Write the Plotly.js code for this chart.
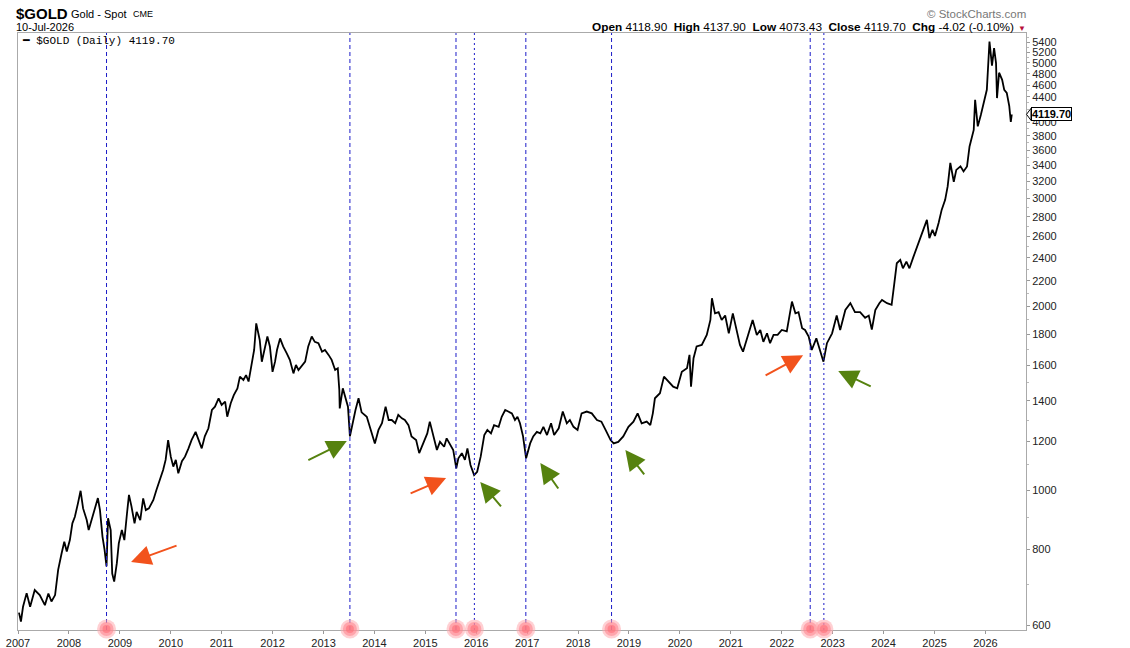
<!DOCTYPE html>
<html>
<head>
<meta charset="utf-8">
<script src="https://cdn.plot.ly/plotly-3.0.1.min.js"></script>
<style>
  html, body { margin: 0; padding: 0; background: #ffffff; }
  #chart { width: 1130px; height: 648px; }
</style>
</head>
<body>
<div id="chart"></div>
<script>
// ---- data (decimal year, gold spot close) ----
const years = [
  2007.02,2007.06,2007.10,2007.17,2007.24,2007.33,2007.43,2007.53,2007.60,2007.66,
  2007.73,2007.79,2007.86,2007.91,2007.96,2008.02,2008.07,2008.12,2008.18,2008.23,
  2008.28,2008.35,2008.39,2008.45,2008.51,2008.57,2008.61,2008.66,2008.70,2008.74,
  2008.77,2008.82,2008.85,2008.89,2008.94,2008.98,2009.04,2009.09,2009.14,2009.18,
  2009.23,2009.29,2009.33,2009.40,2009.46,2009.51,2009.57,2009.66,2009.72,2009.81,
  2009.85,2009.90,2009.95,2010.00,2010.05,2010.10,2010.15,2010.22,2010.28,2010.35,
  2010.41,2010.49,2010.54,2010.61,2010.67,2010.74,2010.81,2010.87,2010.94,2011.00,
  2011.07,2011.11,2011.18,2011.24,2011.31,2011.36,2011.43,2011.48,2011.53,2011.59,
  2011.64,2011.68,2011.71,2011.75,2011.79,2011.83,2011.90,2011.95,2012.00,2012.05,
  2012.09,2012.15,2012.21,2012.28,2012.34,2012.41,2012.46,2012.51,2012.57,2012.64,
  2012.70,2012.77,2012.83,2012.90,2012.97,2013.03,2013.10,2013.16,2013.23,2013.28,
  2013.31,2013.32,2013.38,2013.43,2013.48,2013.52,2013.58,2013.63,2013.69,2013.75,
  2013.85,2013.95,2014.01,2014.08,2014.15,2014.22,2014.28,2014.34,2014.41,2014.47,
  2014.54,2014.60,2014.67,2014.73,2014.82,2014.88,2014.96,2015.04,2015.09,2015.16,
  2015.23,2015.29,2015.37,2015.42,2015.49,2015.55,2015.61,2015.65,2015.72,2015.78,
  2015.83,2015.89,2015.96,2016.02,2016.09,2016.16,2016.22,2016.29,2016.35,2016.44,
  2016.50,2016.57,2016.63,2016.70,2016.76,2016.81,2016.86,2016.92,2016.98,2017.06,
  2017.12,2017.19,2017.26,2017.32,2017.39,2017.47,2017.53,2017.62,2017.70,2017.78,
  2017.84,2017.91,2017.99,2018.07,2018.17,2018.27,2018.37,2018.46,2018.54,2018.64,
  2018.70,2018.79,2018.89,2018.99,2019.09,2019.17,2019.25,2019.35,2019.42,2019.47,
  2019.51,2019.61,2019.69,2019.78,2019.87,2019.95,2020.04,2020.14,2020.19,2020.22,
  2020.27,2020.33,2020.43,2020.53,2020.60,2020.63,2020.69,2020.76,2020.82,2020.89,
  2020.96,2021.04,2021.11,2021.18,2021.24,2021.31,2021.43,2021.51,2021.58,2021.64,
  2021.71,2021.77,2021.84,2021.92,2022.00,2022.10,2022.20,2022.27,2022.33,2022.40,
  2022.46,2022.53,2022.59,2022.68,2022.75,2022.82,2022.89,2022.99,2023.08,2023.15,
  2023.25,2023.35,2023.44,2023.54,2023.64,2023.71,2023.77,2023.84,2023.92,2023.97,
  2024.07,2024.16,2024.21,2024.26,2024.33,2024.38,2024.45,2024.51,2024.59,2024.68,
  2024.78,2024.85,2024.90,2024.96,2025.01,2025.08,2025.14,2025.21,2025.26,2025.31,
  2025.38,2025.43,2025.51,2025.57,2025.64,2025.69,2025.77,2025.80,2025.85,2025.91,
  2025.99,2026.03,2026.08,2026.13,2026.17,2026.21,2026.23,2026.27,2026.33,2026.37,
  2026.42,2026.47,2026.50,2026.52
];
const prices = [
  630,609,644,678,644,686,673,648,677,657,
  673,740,788,823,793,828,882,904,951,997,
  933,893,860,893,927,970,927,839,798,750,
  899,860,730,708,759,818,860,828,916,982,
  940,882,921,893,969,927,933,963,1000,1051,
  1078,1120,1207,1134,1092,1120,1065,1115,1134,1170,
  1207,1245,1215,1170,1224,1262,1352,1369,1413,1378,
  1395,1318,1387,1430,1467,1533,1514,1542,1505,1612,
  1695,1874,1828,1760,1622,1674,1783,1718,1561,1622,
  1695,1771,1718,1674,1633,1552,1602,1572,1592,1622,
  1718,1783,1748,1739,1684,1695,1664,1633,1572,1582,
  1458,1360,1467,1413,1369,1224,1302,1352,1413,1340,
  1318,1238,1192,1254,1286,1369,1302,1302,1286,1327,
  1310,1302,1277,1224,1207,1149,1192,1238,1294,1224,
  1163,1199,1177,1215,1185,1163,1085,1127,1149,1120,
  1170,1099,1058,1071,1134,1230,1254,1238,1277,1269,
  1318,1352,1344,1335,1302,1318,1286,1224,1127,1192,
  1224,1245,1238,1269,1230,1286,1230,1262,1344,1286,
  1302,1269,1254,1335,1344,1335,1302,1294,1254,1207,
  1192,1199,1224,1269,1294,1335,1286,1294,1277,1335,
  1413,1440,1533,1505,1476,1467,1561,1582,1664,1476,
  1643,1718,1728,1794,1898,2060,1946,1955,1898,1930,
  1805,1946,1828,1728,1684,1760,1898,1794,1828,1748,
  1805,1739,1794,1794,1828,1818,2034,1946,1955,1840,
  1828,1783,1695,1771,1695,1622,1739,1805,1930,1828,
  1971,2022,1955,1955,1914,1930,1830,1970,2022,2047,
  2022,2010,2166,2350,2380,2306,2365,2306,2410,2519,
  2665,2768,2584,2665,2605,2735,2874,2985,3140,3431,
  3196,3342,3386,3322,3386,3650,3886,4351,3937,4111,
  4351,4519,5420,4950,5288,5000,4380,4820,4692,4519,
  4468,4250,4003,4119.70
];

// marked cycle dates (vertical lines)
const eventYears  = [2008.74, 2013.52, 2015.605, 2015.965, 2016.975, 2018.66, 2022.56, 2022.83];
const eventStyles = ['dash', 'dash', 'dash', 'dot', 'dash', 'dash', 'dash', 'dot'];

// arrows: head (decimal year, price), kind
const arrowYears  = [2009.22, 2015.41, 2022.42, 2013.46, 2016.08, 2017.26, 2018.93, 2023.11];
const arrowPrices = [762, 1046, 1662, 1203, 1031, 1107, 1163, 1566];
const arrowKinds  = ['red', 'red', 'red', 'green', 'green', 'green', 'green', 'green'];

const yTickVals = [600, 800, 1000, 1200, 1400, 1600, 1800, 2000, 2200, 2400, 2600, 2800,
                   3000, 3200, 3400, 3600, 3800, 4000, 4200, 4400, 4600, 4800, 5000, 5200, 5400];
const yearTicks = [2007,2008,2009,2010,2011,2012,2013,2014,2015,2016,2017,2018,2019,2020,2021,2022,2023,2024,2025,2026];

const lastClose = 4119.70;

// ---- helpers ----
function toDate(d) {
  const y = Math.floor(d);
  const a = Date.UTC(y, 0, 1), b = Date.UTC(y + 1, 0, 1);
  return new Date(a + (d - y) * (b - a)).toISOString().slice(0, 10);
}
const W = 1130, H = 648;
const M = { l: 18, r: 104, t: 33, b: 18 };
const PW = W - M.l - M.r, PH = H - M.t - M.b;
const px = x => (x - M.l) / PW;         // page pixel -> paper x
const py = y => (H - M.b - y) / PH;     // page pixel -> paper y

const yRange = [Math.log10(590), Math.log10(5598)];
const dates = years.map(toDate);
const eventDates = eventYears.map(toDate);

// tail offsets for arrows (pixels, relative to head)
const arrowTails = [[47,-17],[-37,16],[-39,21],[-40,20],[22,26],[19,27],[20,26],[34,16]];

const traces = [
  {
    x: dates, y: prices, type: 'scatter', mode: 'lines',
    line: { color: '#000000', width: 1.8 },
    hoverinfo: 'skip', showlegend: false
  }
];

const shapes = eventDates.map((d, i) => ({
  type: 'line', xref: 'x', yref: 'paper', x0: d, x1: d, y0: 0, y1: 1,
  line: { color: '#1c1cc8', width: 1, dash: eventStyles[i] === 'dot' ? '2px,3px' : '4px,3px' }
}));
// soft pink dots at the foot of each line (drawn on top of the lines)
const dotLayers = [[19, 'rgba(255,170,175,0.55)'], [14, 'rgba(255,130,140,0.55)'], [8, 'rgba(255,105,115,0.55)']];
eventDates.forEach(d => {
  dotLayers.forEach(([s, c]) => {
    shapes.push({
      type: 'circle', xref: 'x', yref: 'paper', xsizemode: 'pixel', ysizemode: 'pixel',
      xanchor: d, yanchor: py(629),
      x0: -s / 2, x1: s / 2, y0: -s / 2, y1: s / 2,
      fillcolor: c, line: { width: 0 }
    });
  });
});
// pointer of the last-price tag
const yLast = (Math.log10(lastClose) - yRange[0]) / (yRange[1] - yRange[0]);
shapes.push({
  type: 'path', xref: 'paper', yref: 'paper',
  path: 'M ' + (1 + 0.5 / PW) + ',' + yLast +
        ' L ' + (1 + 5 / PW) + ',' + (yLast + 6 / PH) +
        ' L ' + (1 + 5 / PW) + ',' + (yLast - 6 / PH) + ' Z',
  fillcolor: '#ffffff', line: { color: '#000000', width: 1 }
});

const annotations = [];
arrowYears.forEach((yr, i) => {
  annotations.push({
    x: toDate(yr), y: Math.log10(arrowPrices[i]), xref: 'x', yref: 'y',
    text: '', showarrow: true, arrowhead: 2, arrowsize: 2.0, arrowwidth: 2,
    arrowcolor: arrowKinds[i] === 'red' ? '#f2521c' : '#56820f',
    ax: arrowTails[i][0], ay: arrowTails[i][1]
  });
});

const F = 'Liberation Sans, Arial, sans-serif';
annotations.push(
  { xref: 'paper', yref: 'paper', x: px(14), y: py(13), xanchor: 'left', yanchor: 'middle',
    text: '<b>$GOLD</b>', showarrow: false, font: { family: F, size: 15, color: '#000' } },
  { xref: 'paper', yref: 'paper', x: px(69), y: py(14), xanchor: 'left', yanchor: 'middle',
    text: 'Gold - Spot', showarrow: false, font: { family: F, size: 11, color: '#000' } },
  { xref: 'paper', yref: 'paper', x: px(131), y: py(14), xanchor: 'left', yanchor: 'middle',
    text: 'CME', showarrow: false, font: { family: F, size: 9, color: '#000' } },
  { xref: 'paper', yref: 'paper', x: px(14), y: py(27), xanchor: 'left', yanchor: 'middle',
    text: '10-Jul-2026', showarrow: false, font: { family: F, size: 11, color: '#000' } },
  { xref: 'paper', yref: 'paper', x: px(1028), y: py(14), xanchor: 'right', yanchor: 'middle',
    text: '© StockCharts.com', showarrow: false, font: { family: F, size: 11.5, color: '#777' } },
  { xref: 'paper', yref: 'paper', x: px(1016), y: py(27), xanchor: 'right', yanchor: 'middle',
    text: '<b>Open</b> 4118.90  <b>High</b> 4137.90  <b>Low</b> 4073.43  <b>Close</b> 4119.70  <b>Chg</b> -4.02 (-0.10%)',
    showarrow: false, font: { family: F, size: 11.8, color: '#000' } },
  { xref: 'paper', yref: 'paper', x: px(1016), y: py(28), xanchor: 'left', yanchor: 'middle',
    text: '▼', showarrow: false, font: { family: F, size: 8, color: '#b8103c' } },
  { xref: 'paper', yref: 'paper', x: px(20), y: py(41), xanchor: 'left', yanchor: 'middle',
    text: '<b>━</b> $GOLD (Daily) 4119.70', showarrow: false,
    font: { family: 'Liberation Mono, DejaVu Sans Mono, monospace', size: 11, color: '#000' } },
  { xref: 'paper', yref: 'y', x: 1, y: Math.log10(lastClose), xanchor: 'left', yanchor: 'middle',
    xshift: 5, text: '<b>' + lastClose.toFixed(2) + '</b>', showarrow: false,
    bgcolor: '#ffffff', bordercolor: '#000000', borderwidth: 1, borderpad: 0,
    font: { family: F, size: 11, color: '#000' } }
);

const minorVals = [];
for (let v = 600; v <= 5500; v += 100) minorVals.push(v);

const layout = {
  width: W, height: H,
  margin: M,
  paper_bgcolor: '#ffffff', plot_bgcolor: '#ffffff',
  showlegend: false,
  font: { family: F, size: 11, color: '#222' },
  xaxis: {
    type: 'date',
    range: ['2007-01-01', '2026-10-19'],
    tickmode: 'array',
    tickvals: yearTicks.map(y => y + '-01-01'),
    ticktext: yearTicks.map(String),
    ticks: 'outside', ticklen: 3, tickcolor: '#999',
    showgrid: false, zeroline: false,
    showline: true, linecolor: '#aaaaaa', linewidth: 1, mirror: true,
    tickfont: { family: F, size: 11, color: '#222' },
    automargin: false, fixedrange: true
  },
  yaxis: {
    type: 'log', side: 'right',
    range: yRange,
    tickmode: 'array',
    tickvals: yTickVals,
    // the 4200 label sits under the last-price tag in the reference
    ticktext: yTickVals.map(v => (v === 4200 ? '' : String(v))),
    ticks: 'outside', ticklen: 3, tickcolor: '#999',
    minor: { tickmode: 'array', tickvals: minorVals, ticks: 'outside', ticklen: 2, tickcolor: '#bbb', showgrid: false },
    showgrid: false, zeroline: false,
    showline: true, linecolor: '#aaaaaa', linewidth: 1, mirror: true,
    tickfont: { family: F, size: 11, color: '#222' },
    automargin: false, fixedrange: true
  },
  shapes: shapes,
  annotations: annotations
};

Plotly.newPlot('chart', traces, layout, { displayModeBar: false, staticPlot: true });
</script>
</body>
</html>
